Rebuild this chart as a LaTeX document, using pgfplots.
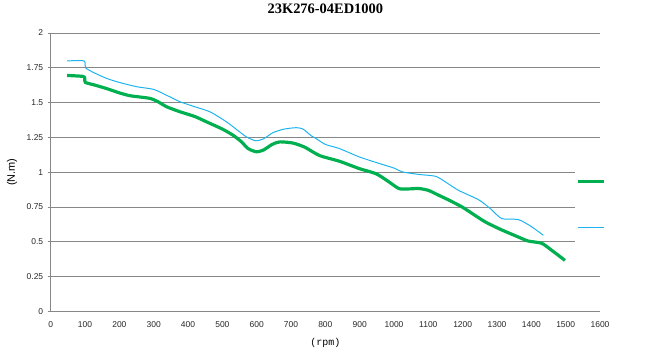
\documentclass[border=0pt]{standalone}
\usepackage{fontspec}
\setmainfont{Liberation Sans}
\newfontfamily\titlefont{Liberation Serif}
\newfontfamily\monofont{Liberation Mono}
\usepackage{pgfplots}
\pgfplotsset{compat=1.18}
\definecolor{cgreen}{HTML}{00B050}
\definecolor{cblue}{HTML}{1CB4EE}
\definecolor{cgrid}{HTML}{878787}
\begin{document}
\begin{tikzpicture}
\path[use as bounding box] (-50.7bp,-51.5bp) rectangle (596.3bp,311.5bp);
\begin{axis}[
  at={(0,0)}, anchor=south west,
  scale only axis, width=549.3bp, height=278.5bp,
  xmin=0, xmax=1600, ymin=0, ymax=2,
  xtick={0,100,...,1600},
  ytick={0,0.25,...,2},
  /pgf/number format/assume math mode=true,
  /pgf/number format/set thousands separator={},
  yticklabel style={/pgf/number format/fixed, /pgf/number format/precision=2},
  ticklabel style={font=\fontsize{8.5}{10}\selectfont, text=black!85},
  xticklabel style={yshift=-4bp},
  yticklabel style={xshift=-1bp},
  axis x line*=bottom, axis y line*=left,
  axis line style={cgrid, line width=0.8pt},
  x axis line style={-}, y axis line style={-},
  ymajorgrids, major grid style={cgrid, line width=0.8pt},
  xtick style={draw=none},
  ytick style={cgrid, line width=0.8pt},
  tick align=outside, major tick length=3bp,
  title={\titlefont\bfseries\fontsize{14.5}{16}\selectfont 23K276-04ED1000},
  title style={at={(axis description cs:0.5,1.065)}, anchor=center},
  xlabel={\monofont\fontsize{10}{12}\selectfont (rpm)},
  every axis x label/.style={at={(axis description cs:0.5,-0.113)}, anchor=center},
  ylabel={\fontsize{11}{13}\selectfont (N.m)},
  every axis y label/.style={at={(axis description cs:-0.0705,0.5)}, rotate=90, anchor=center},
  legend style={draw=none, fill=white, at={(axis description cs:0.988,0.384)}, anchor=center,
    font=\fontsize{4}{5}\selectfont, row sep=40bp, inner xsep=2bp, inner ysep=28bp},
  legend image code/.code={\draw[#1] (0bp,0bp) -- (26bp,0bp);},
  legend cell align=left,
]
\addplot[cgreen, line width=3.2pt, smooth, tension=0.4] coordinates {
(48,1.695) (95,1.688) (99,1.672) (101,1.645) (130,1.625) (164,1.600) (200,1.570)
(230,1.550) (261,1.540) (290,1.530) (310,1.51) (338,1.47) (377,1.434) (420,1.400)
(454,1.362) (500,1.31) (531,1.266) (555,1.22) (575,1.17) (599,1.147) (620,1.16)
(645,1.20) (667,1.218) (705,1.21) (740,1.18) (783,1.12) (841,1.079) (899,1.026)
(947,0.99) (980,0.94) (1014,0.883) (1040,0.88) (1072,0.883) (1100,0.87) (1130,0.835)
(1160,0.80) (1198,0.751) (1230,0.70) (1266,0.643) (1310,0.59) (1362,0.535) (1391,0.506)
(1430,0.49) (1459,0.44) (1498,0.367)
};
\addlegendentry{}
\addplot[cblue, line width=1pt, smooth, tension=0.4] coordinates {
(48,1.80) (97,1.80) (100,1.77) (103,1.746) (130,1.71) (164,1.673) (200,1.645)
(251,1.614) (300,1.595) (340,1.55) (377,1.506) (420,1.47) (464,1.434) (512,1.362)
(545,1.30) (570,1.254) (597,1.226) (620,1.24) (647,1.284) (680,1.31) (715,1.32)
(735,1.31) (760,1.26) (773,1.242) (800,1.20) (841,1.17) (899,1.11) (957,1.063)
(1000,1.03) (1024,1.003) (1070,0.985) (1121,0.971) (1150,0.93) (1188,0.87) (1246,0.803)
(1280,0.74) (1314,0.667) (1362,0.66) (1400,0.61) (1435,0.547)
};
\addlegendentry{}
\end{axis}
\end{tikzpicture}
\end{document}
